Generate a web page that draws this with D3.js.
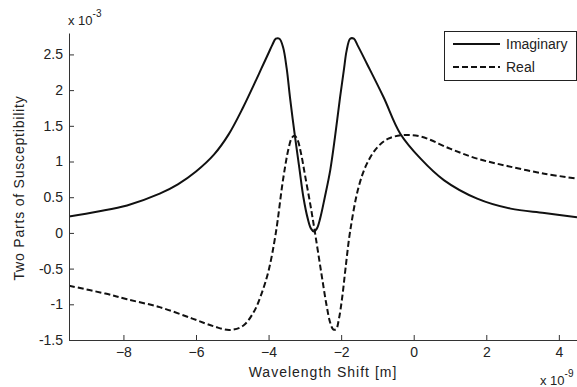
<!DOCTYPE html>
<html>
<head>
<meta charset="utf-8">
<script src="https://cdn.jsdelivr.net/npm/d3@7"></script>
<style>
  body { margin: 0; background: #fff; }
  text { font-family: "Liberation Sans", Arial, sans-serif; fill: #222; }
</style>
</head>
<body>
<svg id="chart" width="577" height="387"></svg>
<script>
// wavelength shift (x 1e-9 m) and susceptibility parts (x 1e-3)
const imagX = [-9.5, -8.7, -7.9, -7.0, -6.5, -6.0, -5.5, -5.1, -4.7, -4.4, -4.2, -4.0, -3.9, -3.8, -3.7, -3.6, -3.5, -3.41, -3.27, -3.15, -3.04, -2.92, -2.83, -2.75, -2.67, -2.58, -2.45, -2.3, -2.17, -2.03, -1.92, -1.85, -1.75, -1.65, -1.55, -1.29, -0.83, -0.37, 0.19, 0.83, 1.75, 2.67, 3.6, 4.5];
const imagY = [0.23, 0.3, 0.385, 0.55, 0.68, 0.86, 1.1, 1.38, 1.76, 2.08, 2.3, 2.52, 2.63, 2.72, 2.72, 2.6, 2.3, 1.9, 1.34, 0.9, 0.5, 0.2, 0.06, 0.02, 0.06, 0.2, 0.5, 0.88, 1.34, 1.9, 2.3, 2.55, 2.72, 2.72, 2.63, 2.37, 1.9, 1.39, 1.04, 0.74, 0.48, 0.34, 0.28, 0.22];

const realX = [-9.5, -8.5, -7.9, -7.0, -6.1, -5.5, -5.07, -4.7, -4.4, -4.2, -4.0, -3.8, -3.6, -3.45, -3.36, -3.28, -3.2, -3.1, -3.0, -2.85, -2.72, -2.55, -2.4, -2.3, -2.22, -2.14, -2.06, -1.97, -1.88, -1.75, -1.52, -1.29, -1.0, -0.7, -0.28, 0.2, 1.0, 1.75, 2.6, 3.6, 4.5];
const realY = [-0.74, -0.85, -0.93, -1.04, -1.2, -1.31, -1.36, -1.3, -1.1, -0.86, -0.53, 0.0, 0.75, 1.18, 1.33, 1.36, 1.3, 1.1, 0.82, 0.4, 0.0, -0.55, -1.02, -1.26, -1.35, -1.35, -1.2, -0.9, -0.5, 0.03, 0.64, 0.97, 1.2, 1.32, 1.37, 1.35, 1.18, 1.04, 0.935, 0.83, 0.76];

const xTicks = [-8, -6, -4, -2, 0, 2, 4];
const yTicks = [-1.5, -1, -0.5, 0, 0.5, 1, 1.5, 2, 2.5];
const seriesNames = ['Imaginary', 'Real'];

const svg = d3.select('#chart');
const margin = { top: 33, right: 0, bottom: 47, left: 69 };
const width = 577 - margin.left - margin.right;
const height = 387 - margin.top - margin.bottom;

const x = d3.scaleLinear().domain([-9.5, 4.5]).range([margin.left, margin.left + width]);
const y = d3.scaleLinear().domain([-1.5, 2.8]).range([margin.top + height, margin.top]);

const line = d3.line().x((d) => x(d[0])).y((d) => y(d[1])).curve(d3.curveCatmullRom.alpha(0.5));

svg.append('defs').append('clipPath').attr('id', 'clip')
    .append('rect').attr('x', margin.left).attr('y', margin.top - 5).attr('width', width).attr('height', height + 5);

const plot = svg.append('g').attr('clip-path', 'url(#clip)');

plot.append('path')
    .datum(d3.zip(imagX, imagY))
    .attr('d', line)
    .attr('fill', 'none')
    .attr('stroke', '#111')
    .attr('stroke-width', 2);

plot.append('path')
    .datum(d3.zip(realX, realY))
    .attr('d', line)
    .attr('fill', 'none')
    .attr('stroke', '#111')
    .attr('stroke-width', 2)
    .attr('stroke-dasharray', '6,3');

// axes, ticks pointing inward
const xAxis = svg.append('g')
    .attr('transform', `translate(0,${margin.top + height})`)
    .call(d3.axisBottom(x).tickValues(xTicks).tickSizeInner(-5).tickSizeOuter(0).tickPadding(7).tickFormat(d3.format('d')));

const yAxis = svg.append('g')
    .attr('transform', `translate(${margin.left},0)`)
    .call(d3.axisLeft(y).tickValues(yTicks).tickSizeInner(-5).tickSizeOuter(0).tickPadding(6).tickFormat((d) => String(d)));

[xAxis, yAxis].forEach((a) => {
    a.select('.domain').attr('stroke', '#333');
    a.selectAll('.tick line').attr('stroke', '#333');
    a.selectAll('.tick text').attr('font-size', 14).attr('font-family', '"Liberation Sans", Arial, sans-serif').attr('fill', '#222');
});

// axis labels
svg.append('text')
    .attr('x', margin.left + width / 2)
    .attr('y', 377)
    .attr('text-anchor', 'middle')
    .attr('font-size', 14)
    .attr('letter-spacing', 1)
    .text('Wavelength Shift [m]');

svg.append('text')
    .attr('transform', `translate(24,${188}) rotate(-90)`)
    .attr('text-anchor', 'middle')
    .attr('font-size', 14)
    .attr('letter-spacing', 0.8)
    .text('Two Parts of Susceptibility');

// exponent labels
const yExp = svg.append('text').attr('x', 68).attr('y', 25).attr('font-size', 13);
yExp.append('tspan').text('x 10');
yExp.append('tspan').attr('dy', -8).attr('font-size', 10).text('-3');

const xExp = svg.append('text').attr('x', 540).attr('y', 385).attr('font-size', 13);
xExp.append('tspan').text('x 10');
xExp.append('tspan').attr('dy', -8).attr('font-size', 10).text('-9');

// legend
const legend = svg.append('g');
legend.append('rect')
    .attr('x', 444.5).attr('y', 31.5).attr('width', 132).attr('height', 49)
    .attr('fill', '#fff').attr('stroke', '#222').attr('stroke-width', 1);

seriesNames.forEach((name, i) => {
    const ly = 44 + i * 23;
    legend.append('line')
        .attr('x1', 453).attr('x2', 500).attr('y1', ly).attr('y2', ly)
        .attr('stroke', '#111').attr('stroke-width', 2)
        .attr('stroke-dasharray', i === 1 ? '6,3' : null);
    legend.append('text')
        .attr('x', 506).attr('y', ly + 5)
        .attr('font-size', 14)
        .text(name);
});
</script>
</body>
</html>
